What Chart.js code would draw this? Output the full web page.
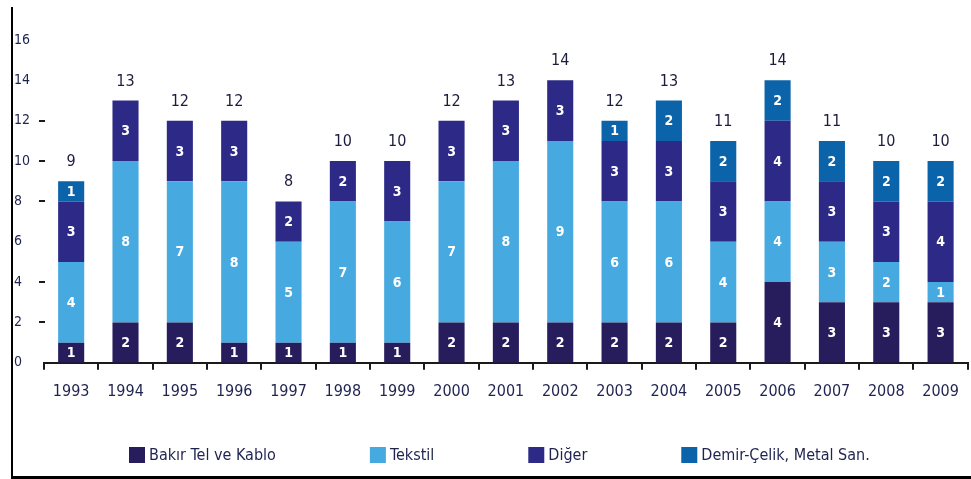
<!DOCTYPE html>
<html lang="tr">
<head>
<meta charset="UTF-8">
<title>Yıllara göre dağılım</title>
<script src="https://cdn.jsdelivr.net/npm/chart.js"></script>
<style>
    body { margin: 0; padding: 0; background: #fff; }
    #chart { display: block; }
</style>
</head>
<body>
<canvas id="chart" width="971" height="479"></canvas>
<script>
    // data
    const years = ['1993','1994','1995','1996','1997','1998','1999','2000','2001','2002','2003','2004','2005','2006','2007','2008','2009'];
    const seriesNames = ['Bakır Tel ve Kablo', 'Tekstil', 'Diğer', 'Demir-Çelik, Metal San.'];
    const bakir   = [1, 2, 2, 1, 1, 1, 1, 2, 2, 2, 2, 2, 2, 4, 3, 3, 3];
    const tekstil = [4, 8, 7, 8, 5, 7, 6, 7, 8, 9, 6, 6, 4, 4, 3, 2, 1];
    const diger   = [3, 3, 3, 3, 2, 2, 3, 3, 3, 3, 3, 3, 3, 4, 3, 3, 4];
    const demir   = [1, 0, 0, 0, 0, 0, 0, 0, 0, 0, 1, 2, 2, 2, 2, 2, 2];
    const yTicks  = [0, 2, 4, 6, 8, 10, 12, 14, 16];
    const dashTicks = [2, 4, 8, 10, 12];

    const colors = ['#271d5c', '#46a9e0', '#2c2a86', '#0b63a9'];
    const FONT = "'Liberation Sans Narrow', 'DejaVu Sans Condensed', sans-serif";
    const TEXT = '#1f2350';

    const totals = years.map((_, i) => bakir[i] + tekstil[i] + diger[i] + demir[i]);

    // white numbers inside segments + totals above the bars
    const labelPlugin = {
        id: 'labels',
        afterDatasetsDraw(chart) {
            const ctx = chart.ctx;
            ctx.save();
            ctx.textAlign = 'center';
            ctx.textBaseline = 'middle';
            ctx.fillStyle = '#ffffff';
            ctx.font = 'bold 14px ' + FONT;
            chart.data.datasets.forEach((ds, di) => {
                chart.getDatasetMeta(di).data.forEach((bar, i) => {
                    const v = ds.data[i];
                    if (!v) return;
                    ctx.fillText(String(v), bar.x, (bar.y + bar.base) / 2 + 1);
                });
            });
            const y = chart.scales.y;
            const first = chart.getDatasetMeta(0).data;
            ctx.fillStyle = '#1c1c3e';
            ctx.font = '16px ' + FONT;
            ctx.textBaseline = 'alphabetic';
            totals.forEach((t, i) => {
                ctx.fillText(String(t), first[i].x, y.getPixelForValue(t) - 15);
            });
            ctx.restore();
        }
    };

    // little dashes next to the y labels, legend and frame
    const decorPlugin = {
        id: 'decor',
        afterDraw(chart) {
            const ctx = chart.ctx;
            const y = chart.scales.y;
            ctx.save();
            ctx.fillStyle = '#1a1a1a';
            dashTicks.forEach(v => {
                ctx.fillRect(39, Math.round(y.getPixelForValue(v)) - 1, 6, 2);
            });

            // legend
            ctx.font = '16px ' + FONT;
            ctx.textBaseline = 'middle';
            ctx.textAlign = 'left';
            let x = 129;
            seriesNames.forEach((name, i) => {
                ctx.fillStyle = colors[i];
                ctx.fillRect(x, 447, 16, 16);
                ctx.fillStyle = TEXT;
                ctx.fillText(name, x + 20, 456);
                x += 20 + ctx.measureText(name).width + 94;
            });

            // frame
            ctx.fillStyle = '#000';
            ctx.fillRect(11, 7, 2, 472);
            ctx.fillRect(11, 476, 960, 3);
            ctx.restore();
        }
    };

    new Chart(document.getElementById('chart'), {
        type: 'bar',
        data: {
            labels: years,
            datasets: [bakir, tekstil, diger, demir].map((d, i) => ({
                label: seriesNames[i],
                data: d,
                backgroundColor: colors[i],
                borderWidth: 0,
                stack: 's'
            }))
        },
        options: {
            responsive: false,
            animation: false,
            layout: { padding: { left: 14, right: 3, top: 40, bottom: 66 } },
            plugins: {
                legend: { display: false },
                tooltip: { enabled: false }
            },
            datasets: {
                bar: { categoryPercentage: 1, barPercentage: 0.48 }
            },
            scales: {
                x: {
                    stacked: true,
                    border: { display: true, color: '#1a1a1a', width: 2 },
                    grid: {
                        display: true,
                        drawOnChartArea: false,
                        drawTicks: true,
                        tickLength: 7,
                        offset: true,
                        color: '#1a1a1a',
                        lineWidth: 2
                    },
                    ticks: {
                        color: TEXT,
                        padding: 12,
                        maxRotation: 0,
                        font: { family: FONT, size: 16 }
                    }
                },
                y: {
                    stacked: true,
                    min: 0,
                    max: 16,
                    afterBuildTicks(scale) { scale.ticks = yTicks.map(v => ({ value: v })); },
                    afterFit(scale) { scale.width = 30; },
                    border: { display: false },
                    grid: { display: false },
                    ticks: {
                        crossAlign: 'far',
                        color: TEXT,
                        font: { family: FONT, size: 14 }
                    }
                }
            }
        },
        plugins: [labelPlugin, decorPlugin]
    });
</script>
</body>
</html>
